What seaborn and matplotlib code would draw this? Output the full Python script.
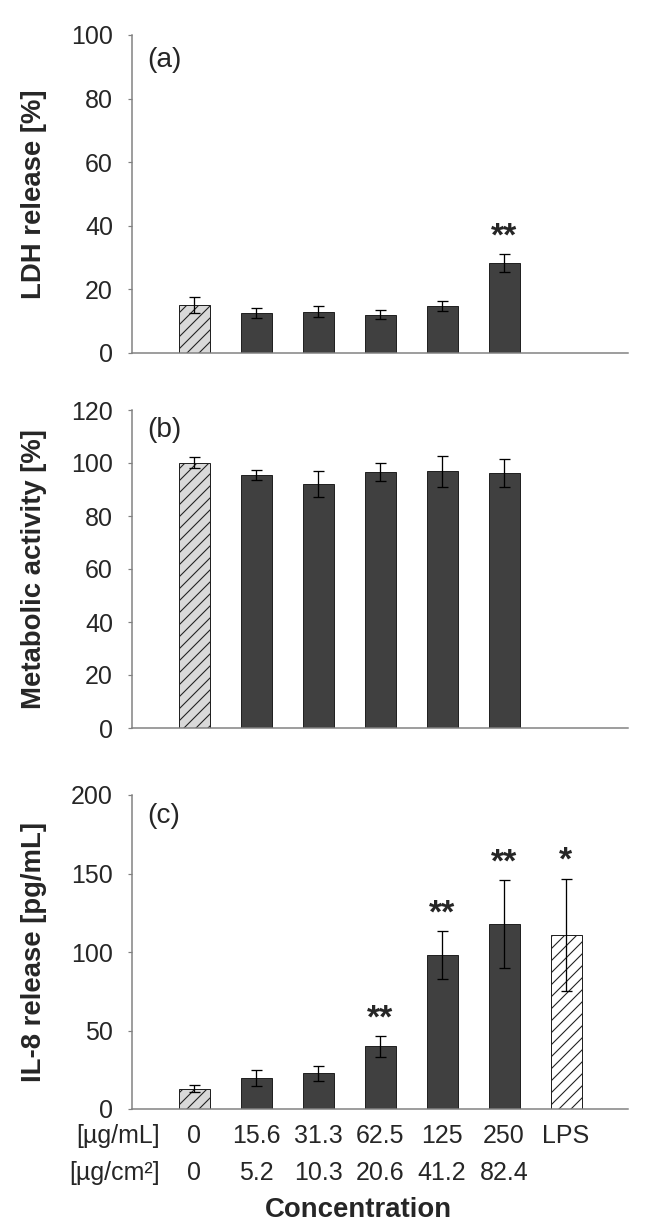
import matplotlib
matplotlib.use("Agg")
import matplotlib.pyplot as plt
import matplotlib.transforms as mtransforms
import numpy as np
import pandas as pd
import seaborn as sns

# concentration groups (x axis)
groups = ["0", "15.6", "31.3", "62.5", "125", "250", "LPS"]
per_area = ["0", "5.2", "10.3", "20.6", "41.2", "82.4", ""]

# (a) LDH release [%]
ldh_mean = [15.2, 12.6, 13.0, 12.1, 14.9, 28.3]
ldh_err = [2.5, 1.6, 1.7, 1.3, 1.6, 2.8]
ldh_stars = ["", "", "", "", "", "**"]

# (b) metabolic activity [%]
meta_mean = [100.1, 95.3, 91.9, 96.6, 96.8, 96.2]
meta_err = [2.0, 1.9, 4.9, 3.5, 5.7, 5.3]
meta_stars = ["", "", "", "", "", ""]

# (c) IL-8 release [pg/mL]
il8_mean = [13.0, 19.7, 22.7, 39.9, 98.1, 117.6, 110.9]
il8_err = [2.1, 5.3, 4.8, 6.5, 15.1, 28.0, 35.7]
il8_stars = ["", "", "", "**", "**", "**", "*"]

sns.set_style("white")
plt.rcParams["font.family"] = ["Liberation Sans", "DejaVu Sans"]
plt.rcParams["hatch.linewidth"] = 1.1

fill = {g: "#404040" for g in groups}
fill["0"] = "#d9d9d9"
fill["LPS"] = "white"

fig = plt.figure(figsize=(650 / 72, 1230 / 72), dpi=72)
left, width = 132 / 650, 496 / 650
ax_a = fig.add_axes([left, 1 - 353 / 1230, width, 318 / 1230])
ax_b = fig.add_axes([left, 1 - 728 / 1230, width, 318 / 1230])
ax_c = fig.add_axes([left, 1 - 1109 / 1230, width, 314 / 1230])


def panel(ax, mean, err, stars, ylabel, ymax, step, letter, letter_y):
    df = pd.DataFrame({"group": groups[: len(mean)], "value": mean})
    sns.barplot(data=df, x="group", y="value", hue="group", order=groups,
                hue_order=groups, palette=fill, width=0.5, legend=False,
                edgecolor="#222222", linewidth=1.0, saturation=1, ax=ax)
    for p in ax.patches:
        idx = int(round(p.get_x() + p.get_width() / 2))
        if groups[idx] in ("0", "LPS"):
            p.set_hatch("//")
    pos = np.arange(len(mean))
    ax.errorbar(pos, mean, yerr=err, fmt="none", ecolor="black",
                elinewidth=1.3, capsize=5.5, capthick=1.3, zorder=5)
    for i, s in enumerate(stars):
        if s:
            ax.annotate(s, (pos[i], mean[i] + err[i]), xytext=(0, 9),
                        textcoords="offset points", ha="center",
                        va="baseline", fontsize=34, fontweight="bold")
    ax.set_xlim(-1, 7)
    ax.set_ylim(0, ymax)
    ax.set_yticks(np.arange(0, ymax + 1, step))
    ax.set_xticks([])
    ax.set_xlabel("")
    ax.set_ylabel(ylabel, fontsize=27.5, fontweight="bold")
    ax.yaxis.set_label_coords(-0.171, 0.5)
    ax.tick_params(axis="y", labelsize=25, length=4, width=1.2,
                   color="#808080", pad=15, left=True, direction="out")
    for side in ("top", "right"):
        ax.spines[side].set_visible(False)
    for side in ("left", "bottom"):
        ax.spines[side].set_color("#808080")
        ax.spines[side].set_linewidth(1.5)
    ax.text(0.031, letter_y, letter, transform=ax.transAxes, fontsize=28,
            ha="left", va="top")


panel(ax_a, ldh_mean, ldh_err, ldh_stars, "LDH release [%]", 100, 20,
      "(a)", 0.962)
panel(ax_b, meta_mean, meta_err, meta_stars, "Metabolic activity [%]", 120,
      20, "(b)", 0.978)
panel(ax_c, il8_mean, il8_err, il8_stars, "IL-8 release [pg/mL]", 200, 50,
      "(c)", 0.975)

# two-row concentration labels under panel c
trans = mtransforms.blended_transform_factory(ax_c.transData, ax_c.transAxes)
for i, (g, a) in enumerate(zip(groups, per_area)):
    ax_c.text(i, -0.108, g, transform=trans, ha="center", va="baseline",
              fontsize=25)
    ax_c.text(i, -0.226, a, transform=trans, ha="center", va="baseline",
              fontsize=25)
ax_c.text(-0.55, -0.108, "[µg/mL]", transform=trans, ha="right",
          va="baseline", fontsize=25)
ax_c.text(-0.55, -0.226, "[µg/cm²]", transform=trans, ha="right",
          va="baseline", fontsize=25)
fig.text(358 / 650, 1 - 1217 / 1230, "Concentration", ha="center",
         va="baseline", fontsize=27.5, fontweight="bold")

fig.savefig("out.png", dpi=72)
